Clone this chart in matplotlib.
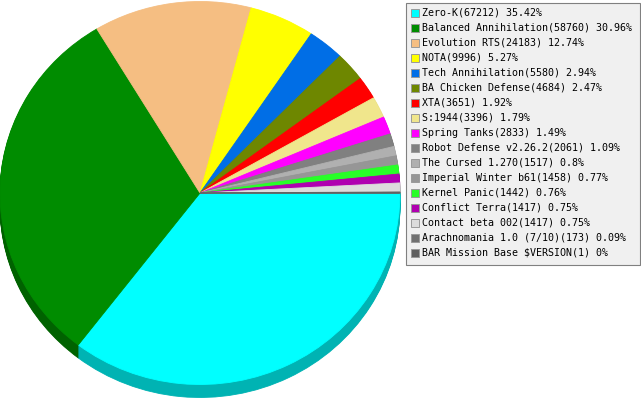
import numpy as np
import matplotlib
matplotlib.use("Agg")
import matplotlib.pyplot as plt
from matplotlib.patches import Rectangle
from matplotlib.colors import to_rgb

# Game names, number of games and share shown in the legend
names = ["Zero-K", "Balanced Annihilation", "Evolution RTS", "NOTA",
         "Tech Annihilation", "BA Chicken Defense", "XTA", "S:1944",
         "Spring Tanks", "Robot Defense v2.26.2", "The Cursed 1.270",
         "Imperial Winter b61", "Kernel Panic", "Conflict Terra",
         "Contact beta 002", "Arachnomania 1.0 (7/10)",
         "BAR Mission Base $VERSION"]
values = [67212, 58760, 24183, 9996, 5580, 4684, 3651, 3396, 2833, 2061,
          1517, 1458, 1442, 1417, 1417, 173, 1]
pcts = ["35.42", "30.96", "12.74", "5.27", "2.94", "2.47", "1.92", "1.79",
        "1.49", "1.09", "0.8", "0.77", "0.76", "0.75", "0.75", "0.09", "0"]
colors = ["#00ffff", "#008c00", "#f5be82", "#ffff00", "#006ee6", "#6e8700",
          "#ff0000", "#f0e68c", "#ff00ff", "#808080", "#b0b0b0", "#969696",
          "#28ff28", "#b000b0", "#dcdcdc", "#707070", "#606060"]

W, H = 641, 400
DEPTH = 13  # px of the 3d side

fig = plt.figure(figsize=(W / 100, H / 100), dpi=100)
fig.patch.set_facecolor("white")

# pie axes (top face ry ~191.5px, rx 200px)
top_px, bot_px = 1.5, 384.5 + DEPTH
pax = fig.add_axes([0, (H - bot_px) / H, 400 / W, (bot_px - top_px) / H])
ry_px = (384.5 - 1.5) / 2
shift = 1 / ry_px

# side wall: stack of darker copies shifted down one pixel at a time
dark = [tuple(c * 0.7 for c in to_rgb(col)) for col in colors]
for k in range(DEPTH, 0, -1):
    wl, _ = pax.pie(values, colors=dark, startangle=0, counterclock=False,
                    center=(0, -k * shift), radius=1,
                    wedgeprops=dict(linewidth=0.6, antialiased=True))
    for w in wl:
        w.set_edgecolor(w.get_facecolor())
        w.set_zorder(1)
wl, _ = pax.pie(values, colors=colors, startangle=0, counterclock=False,
                radius=1, wedgeprops=dict(linewidth=0.6, antialiased=True))
for w in wl:
    w.set_edgecolor(w.get_facecolor())
    w.set_zorder(2)
pax.set_aspect("auto")
pax.set_xlim(-1, 1)
pax.set_ylim(-1 - DEPTH * shift, 1)
pax.axis("off")

# legend in pixel coordinates
lax = fig.add_axes([0, 0, 1, 1], facecolor="none")
lax.set_xlim(0, W)
lax.set_ylim(H, 0)
lax.axis("off")
lax.add_patch(Rectangle((405.5, 2.5), 234, 262, facecolor="#f0f0f0",
                        edgecolor="#808080", linewidth=0.8))
for i, (n, v, p, c) in enumerate(zip(names, values, pcts, colors)):
    y = 12.7 + i * 15
    lax.add_patch(Rectangle((410.5, y - 4), 8, 8, facecolor=c,
                            edgecolor="#9a9a9a", linewidth=0.7))
    lax.text(422, y, f"{n}({v}) {p}%", fontsize=7.2,
             family="DejaVu Sans Mono", va="center", ha="left",
             color="black", parse_math=False)

fig.savefig("out.png", dpi=100)
